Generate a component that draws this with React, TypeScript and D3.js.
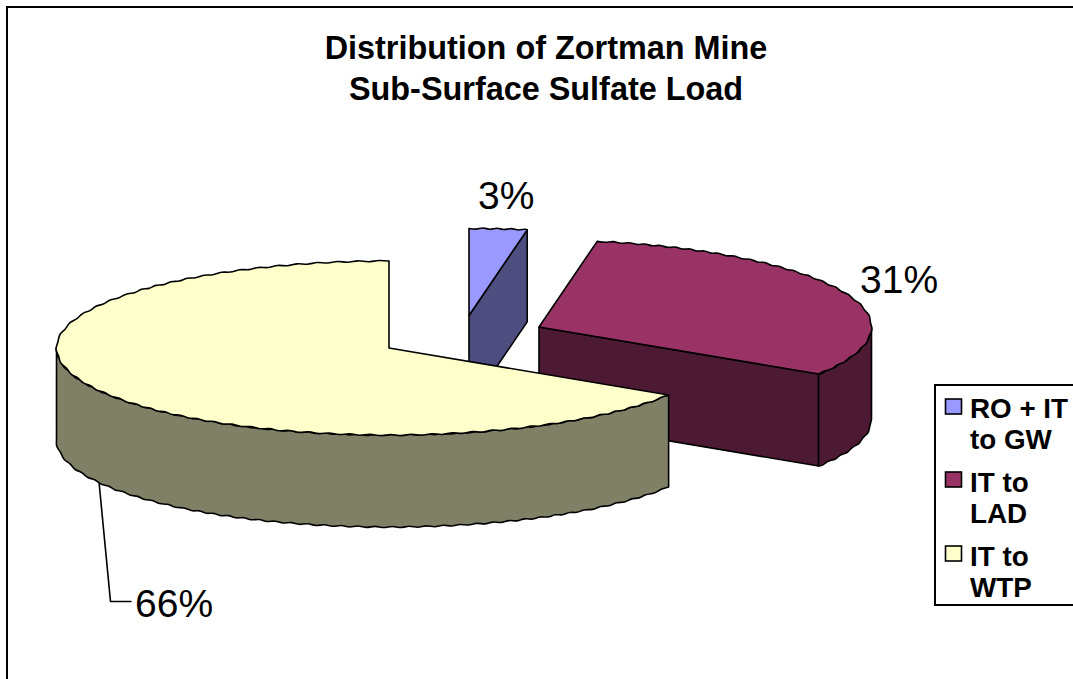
import React from "react";
import * as d3 from "d3";

const titleLines = ["Distribution of Zortman Mine", "Sub-Surface Sulfate Load"];
const categories = ["RO + IT to GW", "IT to LAD", "IT to WTP"];
// shares, labels show them rounded
const values = [2.8, 31.3, 65.9];
const legendLines = [["RO + IT", "to GW"], ["IT to", "LAD"], ["IT to", "WTP"]];
const topColors = ["#9999FF", "#993366", "#FFFFCC"];
const sideColors = ["#4D4D80", "#4D1A33", "#808066"];

const W = 1073;
const H = 679;
const rx = 332.5;
const ry = 87;
const depth = 92;
// where each slice's apex ends up once exploded
const apexes = [[469, 315.5], [539, 327], [389, 348]];
const labelPos = [[478, 209], [860, 293], [135, 617]];
const legendSwatchY = [399, 472, 546];
const legendBase = [[418, 449], [492, 523], [566, 597]];

const lineGen = d3.line();
const curveGen = d3.line().curve(d3.curveCatmullRom);

// the original's ellipse edges are slightly scalloped, wobble the samples a little
function arcPoints(cx, cy, a0, a1) {
  const fine = d3.range(401).map((i) => a0 + ((a1 - a0) * i) / 400);
  const pts = [];
  let run = 0;
  let flip = 1;
  fine.forEach((a, i) => {
    const x = cx + rx * Math.sin(a);
    const y = cy - ry * Math.cos(a);
    if (i > 0) run += Math.hypot(x - (cx + rx * Math.sin(fine[i - 1])), y - (cy - ry * Math.cos(fine[i - 1])));
    if (i === 0 || i === 400) {
      pts.push([x, y]);
    } else if (run >= 7) {
      run = 0;
      flip = -flip;
      const nx = Math.sin(a) / rx;
      const ny = -Math.cos(a) / ry;
      const len = Math.hypot(nx, ny);
      pts.push([x + (flip * 0.55 * nx) / len, y + (flip * 0.55 * ny) / len]);
    }
  });
  return pts;
}

function App() {
  const slices = d3.pie().sort(null)(values);

  const top = (i) => {
    const [cx, cy] = apexes[i];
    const s = slices[i];
    return `M${cx},${cy}L` + curveGen(arcPoints(cx, cy, s.startAngle, s.endAngle)).slice(1) + "Z";
  };
  const wall = (i, a0, a1) => {
    const [cx, cy] = apexes[i];
    const upper = arcPoints(cx, cy, a0, a1);
    const lower = upper.map(([x, y]) => [x, y + depth]).reverse();
    return curveGen(upper) + "L" + curveGen(lower).slice(1) + "Z";
  };
  const cut = (i, a) => {
    const [cx, cy] = apexes[i];
    const x = cx + rx * Math.sin(a);
    const y = cy - ry * Math.cos(a);
    return lineGen([[x, y], [x, y + depth], [cx, cy + depth], [cx, cy]]) + "Z";
  };

  const edge = { stroke: "#000", strokeWidth: 1.6, strokeLinejoin: "round" };

  return (
    <svg width={W} height={H} style={{ position: "absolute", left: 0, top: 0, fontFamily: "'Liberation Sans', Arial, sans-serif" }}>
      <rect x={7} y={7} width={W + 20} height={H + 20} fill="#fff" stroke="#000" strokeWidth={2} />

      {titleLines.map((t, i) => (
        <text key={t} x={546} y={59 + i * 41} textAnchor="middle" fontWeight="bold" fontSize={32.4}>{t}</text>
      ))}

      {/* blue slice */}
      <path d={cut(0, slices[0].endAngle)} fill={sideColors[0]} {...edge} />
      <path d={top(0)} fill={topColors[0]} {...edge} />

      {/* red slice */}
      <path d={cut(1, slices[1].endAngle)} fill={sideColors[1]} {...edge} />
      <path d={wall(1, Math.PI / 2, slices[1].endAngle)} fill={sideColors[1]} {...edge} />
      <path d={top(1)} fill={topColors[1]} {...edge} />

      {/* yellow slice */}
      <path d={wall(2, slices[2].startAngle, Math.PI * 1.5)} fill={sideColors[2]} {...edge} />
      <path d={top(2)} fill={topColors[2]} {...edge} />

      <path d={lineGen([[99, 482], [110.5, 601.5], [131.5, 601.5]])} fill="none" stroke="#000" strokeWidth={1.6} />
      {values.map((v, i) => (
        <text key={categories[i]} x={labelPos[i][0]} y={labelPos[i][1]} fontSize={39}>{Math.round(v)}%</text>
      ))}

      <rect x={935} y={385} width={W} height={220} fill="#fff" stroke="#000" strokeWidth={2} />
      {categories.map((c, i) => (
        <g key={c}>
          <rect x={945.5} y={legendSwatchY[i]} width={16} height={15} fill={topColors[i]} stroke="#000" strokeWidth={1.6} />
          {legendLines[i].map((l, j) => (
            <text key={l} x={970} y={legendBase[i][j]} fontWeight="bold" fontSize={27.8}>{l}</text>
          ))}
        </g>
      ))}
    </svg>
  );
}

export default App;
